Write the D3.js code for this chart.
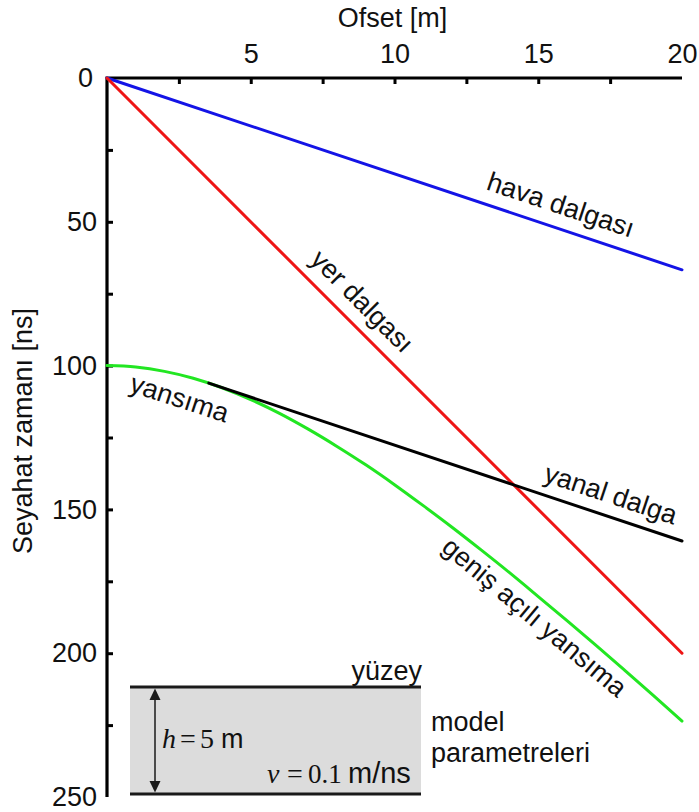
<!DOCTYPE html>
<html>
<head>
<meta charset="utf-8">
<script src="https://cdn.jsdelivr.net/npm/d3@7"></script>
<style>
  html, body { margin: 0; padding: 0; background: #fff; }
  svg { display: block; font-family: "Liberation Sans", Arial, Helvetica, sans-serif; }
</style>
</head>
<body>
<svg id="chart" width="699" height="812"></svg>
<script>
// Travel-time curves for a single layer model (h = 5 m, v = 0.1 m/ns)

// Axis ticks
const offsetTicksMajor = [5, 10, 15, 20];
const offsetTicksMinor = [2.5, 5, 7.5, 10, 12.5, 15, 17.5];
const timeTicksMajor = [0, 50, 100, 150, 200, 250];
const timeTicksMinor = [25, 50, 75, 100, 125, 150, 175, 200, 225];

// Air wave (hava dalgası)
const airOffset = [0, 20];
const airTime = [0, 66.7];

// Direct ground wave (yer dalgası)
const groundOffset = [0, 20];
const groundTime = [0, 200];

// Lateral / head wave (yanal dalga)
const lateralOffset = [3.54, 20];
const lateralTime = [106.1, 161.0];

// Reflection (yansıma)
const reflOffset = [0, 1, 2, 3, 4, 5, 6, 7, 8, 9, 10, 11, 12, 13, 14, 15, 16, 17, 18, 19, 20];
const reflTime = [100.0, 100.5, 102.0, 104.4, 107.7, 111.8, 116.6, 122.1, 128.1, 134.5, 141.4,
                  148.7, 156.2, 164.0, 172.0, 180.3, 188.7, 197.2, 205.9, 214.7, 223.6];

const svg = d3.select("#chart");
const x = d3.scaleLinear().domain([0, 20]).range([107, 682]);
const y = d3.scaleLinear().domain([0, 250]).range([78, 797]);

const SANS = "'Liberation Sans', Arial, sans-serif";
const SERIF = "'Liberation Serif', 'DejaVu Serif', serif";
const FONT = 27;
const zip = (a, b) => a.map((v, i) => [v, b[i]]);

// ---- axes ----
const axisTopTicks = svg.append("g").attr("transform", `translate(0,${y(0)})`)
  .call(d3.axisTop(x).tickValues(offsetTicksMinor).tickSizeInner(-6).tickSizeOuter(0).tickFormat(""));
const axisTopLabels = svg.append("g").attr("transform", `translate(0,${y(0)})`)
  .call(d3.axisTop(x).tickValues(offsetTicksMajor).tickSize(0).tickPadding(15));
const axisLeftTicks = svg.append("g").attr("transform", `translate(${x(0)},0)`)
  .call(d3.axisLeft(y).tickValues(timeTicksMinor).tickSizeInner(-6).tickSizeOuter(0).tickFormat(""));
const axisLeftLabels = svg.append("g").attr("transform", `translate(${x(0)},0)`)
  .call(d3.axisLeft(y).tickValues(timeTicksMajor).tickSize(0).tickPadding(10));

[axisTopTicks, axisTopLabels, axisLeftTicks, axisLeftLabels].forEach(g => {
  g.attr("font-family", SANS).attr("font-size", FONT);
  g.select(".domain").remove();
  g.selectAll(".tick line").attr("stroke", "#000").attr("stroke-width", 3);
  g.selectAll(".tick text").attr("fill", "#111");
});
// the corner "0" sits a little further out than the other time labels
axisLeftLabels.selectAll(".tick text").filter(d => d === 0).attr("dx", -4);

// axis frame lines (top and left)
svg.append("path")
  .attr("d", `M${x(20)},${y(0)}H${x(0)}V${y(250)}`)
  .attr("fill", "none").attr("stroke", "#000").attr("stroke-width", 3.2)
  .attr("stroke-linejoin", "miter");

const texts = svg.append("g").attr("font-family", SANS).attr("font-size", FONT).attr("fill", "#111");

// axis titles
texts.append("text").attr("x", (x(0) + x(20)) / 2 - 2).attr("y", 27)
  .attr("text-anchor", "middle").text("Ofset [m]");
texts.append("text").attr("transform", `translate(32,431) rotate(-90)`)
  .attr("text-anchor", "middle").text("Seyahat zamanı [ns]");

// ---- travel-time curves ----
const straight = d3.line().x(d => x(d[0])).y(d => y(d[1]));
const smooth = d3.line().x(d => x(d[0])).y(d => y(d[1])).curve(d3.curveMonotoneX);

const curves = [
  { pts: zip(airOffset, airTime), color: "#1414e6", gen: straight },
  { pts: zip(groundOffset, groundTime), color: "#ee1515", gen: straight },
  { pts: zip(reflOffset, reflTime), color: "#22e622", gen: smooth },
  { pts: zip(lateralOffset, lateralTime), color: "#000000", gen: straight }
];
svg.append("g").selectAll("path").data(curves).join("path")
  .attr("d", c => c.gen(c.pts))
  .attr("fill", "none").attr("stroke", c => c.color).attr("stroke-width", 3)
  .attr("stroke-linecap", "round");

// ---- curve labels ----
const slopeDeg = (xs, ts) => Math.atan2(y(ts[1]) - y(ts[0]), x(xs[1]) - x(xs[0])) * 180 / Math.PI;
const labels = [
  { text: "hava dalgası", at: [15.76, 44.9], angle: slopeDeg(airOffset, airTime), dy: "0.25em" },
  { text: "yer dalgası", at: [8.82, 78.2], angle: slopeDeg(groundOffset, groundTime), dy: "0.25em" },
  { text: "yanal dalga", at: [17.5, 145.5], angle: slopeDeg(lateralOffset, lateralTime), dy: "0.25em" },
  { text: "yansıma", at: [2.47, 113], angle: 18, dy: "0.15em" },
  { text: "geniş açılı yansıma", at: [14.82, 188.1], angle: 40, dy: "0.25em" }
];
texts.append("g").selectAll("text").data(labels).join("text")
  .attr("transform", d => `translate(${x(d.at[0])},${y(d.at[1])}) rotate(${d.angle})`)
  .attr("text-anchor", "middle").attr("dy", d => d.dy).text(d => d.text);

// ---- model parameter sketch ----
const box = { x0: 130, x1: 421, y0: 687, y1: 794 };
const inset = svg.append("g");
inset.append("rect").attr("x", box.x0).attr("y", box.y0)
  .attr("width", box.x1 - box.x0).attr("height", box.y1 - box.y0).attr("fill", "#dcdcdc");
[box.y0, box.y1].forEach(yy => inset.append("line")
  .attr("x1", box.x0).attr("x2", box.x1).attr("y1", yy).attr("y2", yy)
  .attr("stroke", "#1a1a1a").attr("stroke-width", 3));

// double-headed thickness arrow
const ax = 155, head = 12, hw = 5.5;
inset.append("line").attr("x1", ax).attr("x2", ax).attr("y1", box.y0 + head).attr("y2", box.y1 - head)
  .attr("stroke", "#1a1a1a").attr("stroke-width", 1.5);
inset.append("path").attr("d", `M${ax},${box.y0 + 1.5}L${ax - hw},${box.y0 + head + 1}L${ax + hw},${box.y0 + head + 1}Z`).attr("fill", "#1a1a1a");
inset.append("path").attr("d", `M${ax},${box.y1 - 1.5}L${ax - hw},${box.y1 - head - 1}L${ax + hw},${box.y1 - head - 1}Z`).attr("fill", "#1a1a1a");

const itext = inset.append("g").attr("font-family", SANS).attr("font-size", FONT).attr("fill", "#111");
itext.append("text").attr("x", 422).attr("y", 680).attr("text-anchor", "end").text("yüzey");

const hText = itext.append("text").attr("y", 748);
hText.append("tspan").attr("x", 162).attr("font-family", SERIF).attr("font-size", 28).attr("font-style", "italic").text("h");
hText.append("tspan").attr("x", 180).attr("font-family", SERIF).attr("font-size", 28).text("=");
hText.append("tspan").attr("x", 200).attr("font-family", SERIF).attr("font-size", 28).text("5");
hText.append("tspan").attr("x", 221).text("m");

const vText = itext.append("text").attr("y", 783);
vText.append("tspan").attr("x", 267).attr("font-family", SERIF).attr("font-size", 28).attr("font-style", "italic").text("v");
vText.append("tspan").attr("x", 287).attr("font-family", SERIF).attr("font-size", 28).text("=");
vText.append("tspan").attr("x", 308).attr("font-family", SERIF).attr("font-size", 27).text("0.1");
vText.append("tspan").attr("x", 348).attr("font-size", 29).text("m/ns");

itext.append("text").attr("x", 431).attr("y", 731).text("model");
itext.append("text").attr("x", 431).attr("y", 762).text("parametreleri");
</script>
</body>
</html>
